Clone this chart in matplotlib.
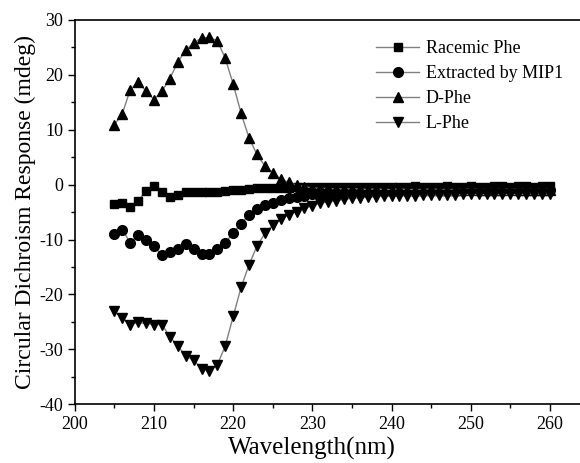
import numpy as np
import matplotlib.pyplot as plt

plt.rcParams['font.family'] = ['Liberation Serif', 'DejaVu Serif']
plt.rcParams['axes.unicode_minus'] = False

wavelength = np.arange(205, 261)

racemic = [-3.5, -3.3, -4.0, -3.0, -1.1, -0.2, -1.4, -2.2, -1.9, -1.4,
           -1.3, -1.3, -1.4, -1.3, -1.2, -1.0, -0.9, -0.8, -0.7, -0.7,
           -0.6, -0.6, -0.6, -0.5, -0.5, -0.5,
           -0.5, -0.5, -0.4, -0.5, -0.4, -0.4, -0.4, -0.5, -0.4, -0.4,
           -0.4, -0.4, -0.3, -0.4, -0.4, -0.4, -0.3, -0.4, -0.4, -0.3,
           -0.4, -0.4, -0.3, -0.3, -0.4, -0.3, -0.3, -0.4, -0.3, -0.3]

extracted = [-9.0, -8.2, -10.6, -9.2, -10.1, -11.2, -12.9, -12.3, -11.7, -10.8,
             -11.7, -12.7, -12.7, -11.8, -10.6, -8.8, -7.1, -5.5, -4.5, -3.8,
             -3.3, -2.8, -2.5, -2.2, -2.0, -1.8,
             -1.7, -1.6, -1.5, -1.5, -1.4, -1.4, -1.3, -1.3, -1.3, -1.2,
             -1.2, -1.2, -1.2, -1.1, -1.1, -1.1, -1.1, -1.1, -1.0, -1.0,
             -1.0, -1.0, -1.0, -1.0, -1.0, -0.9, -0.9, -0.9, -0.9, -0.9]

d_phe = [10.9, 12.9, 17.3, 18.7, 17.0, 15.5, 17.0, 19.3, 22.3, 24.5,
         25.8, 26.7, 26.8, 26.2, 23.0, 18.3, 13.0, 8.5, 5.5, 3.4,
         2.2, 1.0, 0.4, -0.1, -0.4, -0.6,
         -0.7, -0.7, -0.8, -0.8, -0.8, -0.8, -0.9, -0.8, -0.9, -0.9,
         -0.8, -0.9, -0.9, -0.9, -0.8, -0.9, -0.9, -0.9, -0.9, -0.8,
         -0.9, -0.9, -0.9, -0.9, -0.8, -0.9, -0.9, -0.9, -0.9, -0.9]

l_phe = [-23.1, -24.3, -25.5, -25.1, -25.3, -25.5, -25.5, -27.7, -29.4, -31.2,
         -32.0, -33.5, -34.0, -32.8, -29.4, -24.0, -18.7, -14.6, -11.2, -8.9,
         -7.4, -6.3, -5.5, -4.9, -4.3, -3.9, -3.4, -3.1, -2.9, -2.7,
         -2.5, -2.4, -2.3, -2.2, -2.1, -2.1,
         -2.0, -2.0, -2.0, -1.9, -1.9, -1.9, -1.9, -1.9, -1.8, -1.8,
         -1.8, -1.8, -1.8, -1.8, -1.8, -1.8, -1.7, -1.7, -1.7, -1.7]

series = [
    ('Racemic Phe', racemic, 's', 6),
    ('Extracted by MIP1', extracted, 'o', 7),
    ('D-Phe', d_phe, '^', 7.5),
    ('L-Phe', l_phe, 'v', 7.5),
]

fig = plt.figure(figsize=(5.8, 4.63), dpi=100)
ax = fig.add_axes([0.129, 0.127, 0.871, 0.83])

for name, vals, mk, ms in series:
    ax.plot(wavelength, vals, color='#808080', lw=1, marker=mk, ms=ms,
            mfc='black', mec='black', label=name)

ax.set_xlim(200, 263.8)
ax.set_ylim(-40, 30)
ax.set_xticks(np.arange(200, 261, 10))
ax.set_xticks(np.arange(205, 261, 10), minor=True)
ax.set_yticks(np.arange(-40, 31, 10))
ax.set_yticks(np.arange(-35, 30, 10), minor=True)
ax.tick_params(which='both', direction='out', labelsize=13, width=1)
ax.tick_params(which='major', length=5)
ax.tick_params(which='minor', length=3)
ax.spines['right'].set_visible(False)
for s in ['left', 'bottom', 'top']:
    ax.spines[s].set_linewidth(1.2)

ax.set_xlabel('Wavelength(nm)', fontsize=18, labelpad=5)
ax.xaxis.set_label_coords(0.47, -0.085)
ax.set_ylabel('Circular Dichroism Response (mdeg)', fontsize=17, labelpad=2)

ax.legend(loc='upper left', bbox_to_anchor=(0.596, 0.948), frameon=False,
          fontsize=13, borderpad=0, borderaxespad=0, labelspacing=0.45,
          handlelength=2.4, handletextpad=0.35)

fig.savefig('out.png', dpi=100)
